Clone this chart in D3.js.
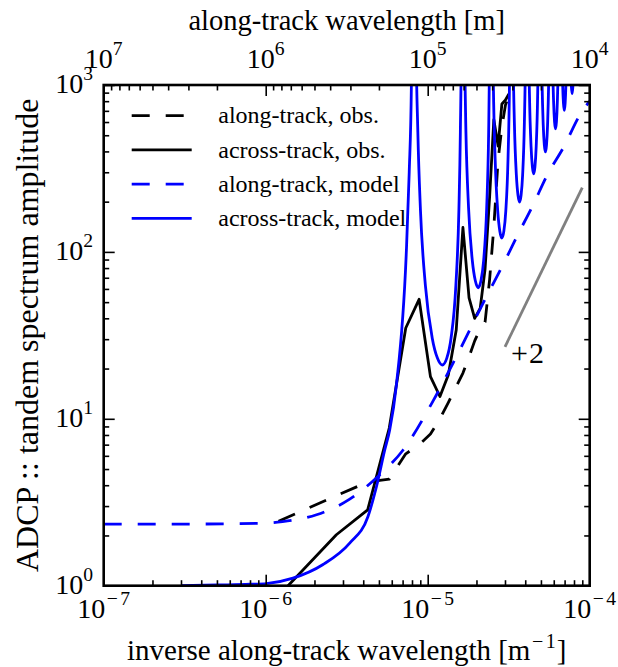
<!DOCTYPE html>
<html><head><meta charset="utf-8">
<script src="https://cdn.jsdelivr.net/npm/d3@7"></script>
<style>
body{margin:0;background:#fff}
svg{display:block}
text{font-family:"Liberation Serif","Times New Roman",serif;fill:#000}
</style>
</head><body>
<svg id="c" width="618" height="667"></svg>
<script>
// ---------------- data ----------------
// observation frequency grid [1/m]
const obsK = [1.2e-6, 2.73e-6, 4.26e-6, 5.79e-6, 7.32e-6, 8.85e-6, 1.04e-5, 1.19e-5, 1.34e-5, 1.5e-5,
              1.65e-5, 1.8e-5, 1.95e-5, 2.11e-5, 2.26e-5, 2.41e-5, 2.56e-5, 2.72e-5, 2.87e-5, 3.02e-5, 3.17e-5];
const alongObs  = [2.43, 3.46, 4.18, 4.35, 6.17, 7.0, 8.1, 10.0, 12.5, 15.6,
                   18.8, 23.5, 29.3, 34.6, 38, 68, 141, 355, 561, 759, 860];
const acrossObs = [0.87, 2.02, 2.85, 8.8, 35, 52, 17.9, 13.6, 18.3, 34,
                   140, 53, 40, 46, 79, 212, 620, 431, 770, 813, 883];

const modelAlongK = [1e-7, 3e-7, 6e-7, 1e-6, 1.27e-6, 2.06e-6, 3.3e-6, 4.91e-6, 7.05e-6, 1.08e-5,
                     1.5e-5, 2.19e-5, 3.06e-5, 3.59e-5, 4.47e-5, 5.47e-5, 6.91e-5, 8.8e-5, 1e-4];
const modelAlong  = [2.34, 2.34, 2.35, 2.37, 2.42, 2.66, 3.3, 4.5, 6.5, 12.8,
                     23.5, 49, 92, 126, 191, 289, 425, 675, 800];

const modelAcrossK = [
  3e-7, 5e-7, 8e-7, 1.01e-6, 1.474e-6, 2.26e-6, 3.3e-6, 4.28e-6, 4.83e-6, 5.43e-6, 5.83e-6, 6.41e-6, 7.39e-6, 7.69e-6, 7.93e-6,
  8.2e-6,
  8.446e-6, 8.692e-6, 9.02e-6, 9.676e-6, 1.066e-5, 1.148e-5, 1.23e-5, 1.312e-5, 1.394e-5, 1.4924e-5, 1.558e-5, 1.5908e-5, 1.6154e-5,
  1.64e-5,
  1.6646e-5, 1.6892e-5, 1.722e-5, 1.7876e-5, 1.886e-5, 1.968e-5, 2.05e-5, 2.132e-5, 2.214e-5, 2.3124e-5, 2.378e-5, 2.4108e-5, 2.4354e-5,
  2.46e-5,
  2.4846e-5, 2.5092e-5, 2.542e-5, 2.6076e-5, 2.706e-5, 2.788e-5, 2.87e-5, 2.952e-5, 3.034e-5, 3.1324e-5, 3.198e-5, 3.2308e-5, 3.2554e-5,
  3.28e-5,
  3.3046e-5, 3.3292e-5, 3.362e-5, 3.4276e-5, 3.526e-5, 3.608e-5, 3.69e-5, 3.772e-5, 3.854e-5, 3.9524e-5, 4.018e-5, 4.0508e-5, 4.0754e-5,
  4.1e-5,
  4.1246e-5, 4.1492e-5, 4.182e-5, 4.2476e-5, 4.346e-5, 4.428e-5, 4.51e-5, 4.592e-5, 4.674e-5, 4.7724e-5, 4.838e-5, 4.8708e-5, 4.8954e-5,
  4.92e-5,
  4.9446e-5, 4.9692e-5, 5.002e-5, 5.0676e-5, 5.166e-5, 5.248e-5, 5.33e-5, 5.412e-5, 5.494e-5, 5.5924e-5, 5.658e-5, 5.6908e-5, 5.7154e-5,
  5.74e-5,
  5.7646e-5, 5.7892e-5, 5.822e-5, 5.8876e-5, 5.986e-5, 6.068e-5, 6.15e-5, 6.232e-5, 6.314e-5, 6.4124e-5, 6.478e-5, 6.5108e-5, 6.5354e-5,
  6.56e-5,
  6.5846e-5, 6.6092e-5, 6.642e-5, 6.7076e-5, 6.806e-5, 6.888e-5, 6.97e-5, 7.052e-5, 7.134e-5, 7.2324e-5, 7.298e-5, 7.3308e-5, 7.3554e-5,
  7.38e-5,
  7.4046e-5, 7.4292e-5, 7.462e-5, 7.5276e-5, 7.626e-5, 7.708e-5, 7.79e-5, 7.872e-5, 7.954e-5, 8.0524e-5, 8.118e-5, 8.1508e-5, 8.1754e-5,
  8.2e-5, 8.61e-5, 9.02e-5, 9.43e-5, 9.84e-5, 1e-4];
const modelAcross = [
  1.0, 1.01, 1.02, 1.03, 1.11, 1.34, 1.8, 2.6, 3.93, 6.5, 8.6, 16, 103, 300, 1000,
  1e6,
  2373, 525, 178.5, 63, 30.5, 23.1, 21, 23.1, 30.5, 63, 178.5, 525, 2373,
  1e6,
  6893, 1525, 518.5, 183, 88.5, 67.1, 61, 67.1, 88.5, 183, 518.5, 1525, 6893,
  1e6,
  13673, 3025, 1028.5, 363, 175.5, 133.1, 121, 133.1, 175.5, 363, 1028.5, 3025, 13673,
  1e6,
  22487, 4975, 1691.5, 597, 288.6, 218.9, 199, 218.9, 288.6, 597, 1691.5, 4975, 22487,
  1e6,
  33222, 7350, 2499, 882, 426.3, 323.4, 294, 323.4, 426.3, 882, 2499, 7350, 33222,
  1e6,
  44861, 9925, 3374.5, 1191, 575.7, 436.7, 397, 436.7, 575.7, 1191, 3374.5, 9925, 44861,
  1e6,
  61811, 13675, 4649.5, 1641, 793.2, 601.7, 547, 601.7, 793.2, 1641, 4649.5, 13675, 61811,
  1e6,
  79778, 17650, 6001, 2118, 1023.7, 776.6, 706, 776.6, 1023.7, 2118, 6001, 17650, 79778,
  1e6,
  100231, 22175, 7539.5, 2661, 1286, 975.7, 887, 975.7, 1286, 2661, 7539.5, 22175, 100231,
  1e6, 1150, 1e6, 1400, 1e6, 8000];

const slopeK = [3e-5, 9e-5];
const slopeV = [27, 243];
const slopeLabel = ["+", "2"];

const xTickExps   = [-7, -6, -5, -4];
const topTickExps = [7, 6, 5, 4];
const yTickExps   = [0, 1, 2, 3];

const legendLabels = ["along-track, obs.", "across-track, obs.", "along-track, model", "across-track, model"];
const titleTop = "along-track wavelength [m]";
const titleBottom = ["inverse along-track wavelength [m", "1", "]"];
const titleLeft = "ADCP :: tandem spectrum amplitude";

// ---------------- layout ----------------
const L = 103.7, R = 589.7, T = 85, B = 585.7;
const svg = d3.select("#c");
const x = d3.scaleLog().domain([1e-7, 1e-4]).range([L, R]);
const xTop = d3.scaleLog().domain([1e7, 1e4]).range([L, R]);
const y = d3.scaleLog().domain([1, 1000]).range([B, T]);

svg.append("defs").append("clipPath").attr("id", "clip")
  .append("rect").attr("x", L).attr("y", T).attr("width", R - L).attr("height", B - T);

const BLUE = "#0000ff", DASH = "18,16", LW = 2.8;

const series = [
  {k: obsK, v: alongObs, color: "#000", dash: DASH, curve: d3.curveLinear},
  {k: obsK, v: acrossObs, color: "#000", dash: null, curve: d3.curveLinear},
  {k: modelAlongK, v: modelAlong, color: BLUE, dash: DASH, curve: d3.curveMonotoneX},
  {k: modelAcrossK, v: modelAcross, color: BLUE, dash: null, curve: d3.curveMonotoneX},
];

const plot = svg.append("g").attr("clip-path", "url(#clip)");
series.forEach(s => {
  const pts = s.k.map((k, i) => [k, s.v[i]]);
  plot.append("path")
    .attr("d", d3.line().x(d => x(d[0])).y(d => y(d[1])).curve(s.curve)(pts))
    .attr("fill", "none").attr("stroke", s.color).attr("stroke-width", LW)
    .attr("stroke-dasharray", s.dash).attr("stroke-linejoin", "round");
});
// +2 reference slope
plot.append("path")
  .attr("d", d3.line().x(d => x(d[0])).y(d => y(d[1]))(slopeK.map((k, i) => [k, slopeV[i]])))
  .attr("stroke", "#808080").attr("stroke-width", LW).attr("fill", "none");
{
  const t = svg.append("text").attr("x", x(slopeK[0]) + 6).attr("y", y(slopeV[0]) + 16).style("font-size", "30px");
  t.append("tspan").text(slopeLabel[0]);
  t.append("tspan").attr("dx", 1).text(slopeLabel[1]);
}

// ---------------- ticks ----------------
function minorsLog(lo, hi) {
  const out = [];
  for (let e = lo; e < hi; e++) for (let m = 2; m <= 9; m++) out.push(m * Math.pow(10, e));
  return out;
}
const MAJ = 11, MIN = 5.5;
function drawAxis(gen, tx, ty, majors, minors) {
  [[majors, MAJ], [minors, MIN]].forEach(([vals, len]) => {
    const g = svg.append("g").attr("transform", `translate(${tx},${ty})`)
      .call(gen.tickValues(vals).tickSize(-len).tickFormat(() => "").tickSizeOuter(0));
    g.select(".domain").remove();
    g.selectAll("line").attr("stroke", "#000").attr("stroke-width", 1.6);
  });
}
drawAxis(d3.axisBottom(x), 0, B, xTickExps.map(e => Math.pow(10, e)), minorsLog(-7, -4));
drawAxis(d3.axisTop(xTop), 0, T, topTickExps.map(e => Math.pow(10, e)), minorsLog(4, 7));
drawAxis(d3.axisLeft(y), L, 0, yTickExps.map(e => Math.pow(10, e)), minorsLog(0, 3));
drawAxis(d3.axisRight(y), R, 0, yTickExps.map(e => Math.pow(10, e)), minorsLog(0, 3));

// frame
svg.append("rect").attr("x", L).attr("y", T).attr("width", R - L).attr("height", B - T)
  .attr("fill", "none").attr("stroke", "#000").attr("stroke-width", 2.6);

// ---------------- tick labels ----------------
function sup(t, exp, size, rise) {
  if (exp < 0) {
    t.append("tspan").attr("dy", -rise).attr("dx", 1.5).style("font-size", size + "px").text("\u2212");
    t.append("tspan").attr("dx", 2.5).style("font-size", size + "px").text(String(-exp));
  } else {
    t.append("tspan").attr("dy", -rise).style("font-size", size + "px").text(String(exp));
  }
}
function sci(px, py, exp, anchor) {
  const t = svg.append("text").attr("x", px).attr("y", py).attr("text-anchor", anchor).style("font-size", "28px");
  t.append("tspan").text("10");
  sup(t, exp, 19.6, 13);
}
xTickExps.forEach(e => sci(x(Math.pow(10, e)), 618, e, "middle"));
topTickExps.forEach(e => sci(xTop(Math.pow(10, e)), 68, e, "middle"));
yTickExps.forEach(e => sci(93, y(Math.pow(10, e)) + 8, e, "end"));

// ---------------- axis titles ----------------
const cx = (L + R) / 2;
svg.append("text").attr("x", cx).attr("y", 30).attr("text-anchor", "middle").style("font-size", "28.5px").text(titleTop);
{
  const t = svg.append("text").attr("x", cx).attr("y", 660).attr("text-anchor", "middle").style("font-size", "29px");
  t.append("tspan").text(titleBottom[0]);
  sup(t, -Number(titleBottom[1]), 20, 12);
  t.append("tspan").attr("dy", 12).attr("dx", 1).style("font-size", "29px").text(titleBottom[2]);
}
svg.append("text").attr("transform", `translate(38,${(T + B) / 2}) rotate(-90)`)
  .attr("text-anchor", "middle").style("font-size", "32px").text(titleLeft);

// ---------------- legend ----------------
const legY0 = 115.7, legDY = 34.2;
series.forEach((s, i) => {
  const yy = legY0 + i * legDY;
  svg.append("line").attr("x1", 131.7).attr("x2", 191.7).attr("y1", yy).attr("y2", yy)
    .attr("stroke", s.color).attr("stroke-width", LW).attr("stroke-dasharray", s.dash);
  svg.append("text").attr("x", 218.3).attr("y", yy + 7.7).style("font-size", "24px").text(legendLabels[i]);
});
</script>
</body></html>
